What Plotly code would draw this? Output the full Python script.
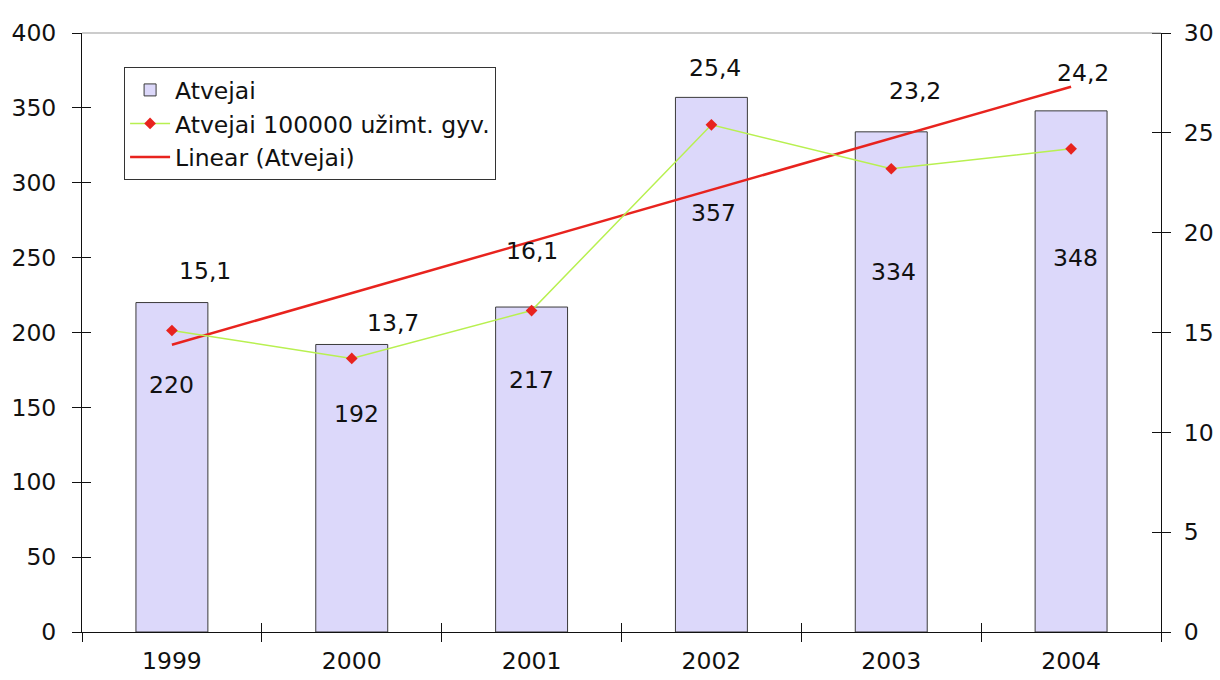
import numpy as np
import plotly.graph_objects as go

years = ["1999", "2000", "2001", "2002", "2003", "2004"]
cases = [220, 192, 217, 357, 334, 348]
rate = [15.1, 13.7, 16.1, 25.4, 23.2, 24.2]

# label offsets in pixels (style only)
bar_lbl_dx = [0, 5, 0, 2, 2, 4]
bar_lbl_dy = [-82, -70, -73, -116, -140, -147]
rate_lbl_dx = [33, 41, 0, 4, 24, 12]
rate_lbl_dy = [60, 35, 60, 57, 78, 76]

idx = np.arange(len(years))
slope, intercept = np.polyfit(idx, cases, 1)
trend = intercept + slope * idx

FONT = "DejaVu Sans, Liberation Sans, Arial, sans-serif"
FS = 23.5

fig = go.Figure()
fig.add_trace(go.Bar(
    x=years, y=cases, name="Atvejai", width=0.4,
    marker=dict(color="#DCD8FA", line=dict(color="#3a3a3a", width=1)),
))
fig.add_trace(go.Scatter(
    x=years, y=rate, name="Atvejai 100000 užimt. gyv.", yaxis="y2",
    mode="lines+markers",
    line=dict(color="#B8F050", width=1.5),
    marker=dict(symbol="diamond", color="#E8231E", size=9),
))
fig.add_trace(go.Scatter(
    x=years, y=trend, name="Linear (Atvejai)", mode="lines",
    line=dict(color="#E8231E", width=2.5),
))
# invisible helper trace so the inner-tick overlay axes are drawn
fig.add_trace(go.Scatter(
    x=years, y=cases, xaxis="x2", yaxis="y3", mode="markers",
    marker=dict(opacity=0), showlegend=False, hoverinfo="skip",
))

annotations = []
for i in range(len(years)):
    annotations.append(dict(
        x=i, y=cases[i], xref="x", yref="y", text=str(cases[i]),
        showarrow=False, xshift=bar_lbl_dx[i], yshift=bar_lbl_dy[i],
        font=dict(family=FONT, size=FS, color="#111"),
    ))
    annotations.append(dict(
        x=i, y=rate[i], xref="x", yref="y2",
        text=f"{rate[i]:.1f}".replace(".", ","),
        showarrow=False, xshift=rate_lbl_dx[i], yshift=rate_lbl_dy[i],
        font=dict(family=FONT, size=FS, color="#111"),
    ))

tickfont = dict(family=FONT, size=FS, color="#111")

fig.update_layout(
    width=1220, height=680,
    margin=dict(l=82, r=59, t=33, b=48, autoexpand=False),
    paper_bgcolor="white", plot_bgcolor="white",
    font=dict(family=FONT, size=FS, color="#111"),
    showlegend=True,
    legend=dict(
        x=0.039, y=0.943, xanchor="left", yanchor="top",
        bgcolor="white", bordercolor="#333", borderwidth=1,
        font=dict(family=FONT, size=FS, color="#111"),
        tracegroupgap=0, itemwidth=40,
    ),
    xaxis=dict(
        type="category", range=[-0.5, len(years) - 0.5], automargin=False,
        showgrid=False, showline=True, linecolor="#111", linewidth=1,
        ticks="outside", ticklen=9, tickcolor="#111", tickson="boundaries",
        tickangle=0, tickfont=tickfont, ticklabelstandoff=8,
    ),
    xaxis2=dict(
        type="category", range=[-0.5, len(years) - 0.5], overlaying="x",
        anchor="y3", showgrid=False, showline=False, zeroline=False, automargin=False,
        ticks="inside", ticklen=9, tickcolor="#111", tickson="boundaries",
        showticklabels=False,
    ),
    yaxis=dict(
        range=[0, 400], dtick=50, showgrid=False, zeroline=False, automargin=False,
        showline=True, linecolor="#111", linewidth=1,
        ticks="outside", ticklen=9, tickcolor="#111",
        tickfont=tickfont, ticklabelstandoff=11,
    ),
    yaxis3=dict(
        range=[0, 400], dtick=50, overlaying="y", side="left", anchor="x2",
        showgrid=False, zeroline=False, showline=False, automargin=False,
        ticks="inside", ticklen=9, tickcolor="#111", showticklabels=False,
    ),
    yaxis2=dict(
        range=[0, 30], dtick=5, overlaying="y", side="right", showgrid=False,
        zeroline=False, showline=True, linecolor="#111", linewidth=1, automargin=False,
        ticks="outside", ticklen=9, tickcolor="#111",
        tickfont=tickfont, ticklabelstandoff=8,
        minor=dict(ticks="inside", ticklen=9, tickcolor="#111", tick0=0.0001, dtick=5),
    ),
    annotations=annotations,
    shapes=[dict(type="line", xref="paper", yref="paper", x0=0, x1=1, y0=1, y1=1,
                 line=dict(color="#999", width=1))],
)

fig.write_html("out.html")
